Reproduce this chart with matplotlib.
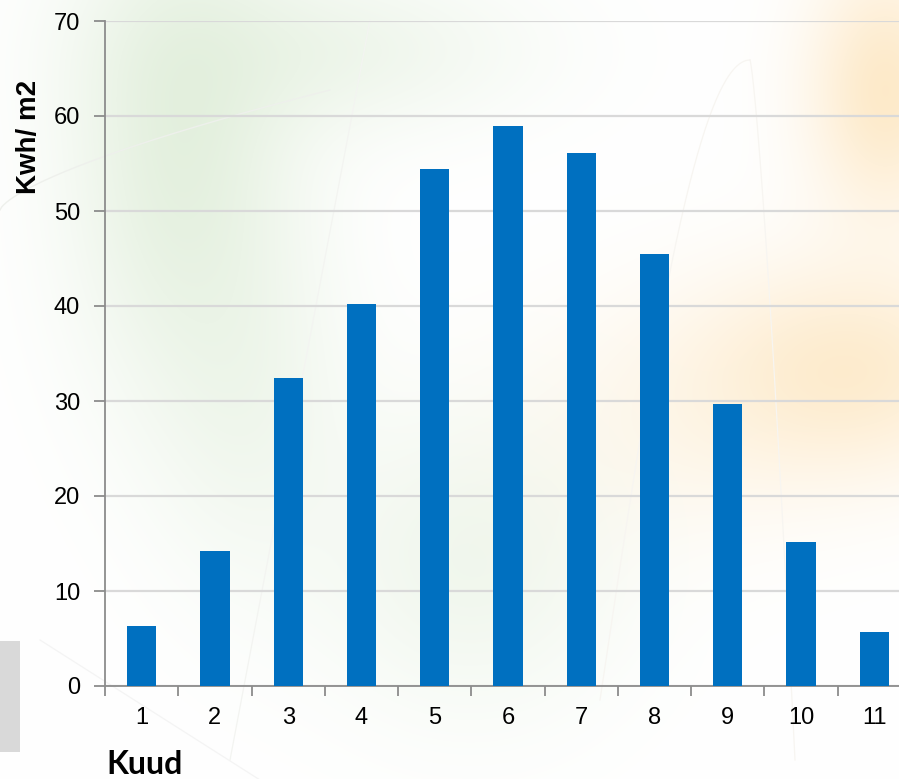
import numpy as np
import matplotlib
matplotlib.use("Agg")
import matplotlib.pyplot as plt
from matplotlib.patches import Rectangle
from matplotlib.ticker import FixedLocator

# Monthly energy per square metre
months = [1, 2, 3, 4, 5, 6, 7, 8, 9, 10, 11]
kwh_per_m2 = [6.3, 14.2, 32.4, 40.2, 54.4, 59.0, 56.1, 45.5, 29.7, 15.2, 5.7]
y_ticks = [0, 10, 20, 30, 40, 50, 60, 70]

W, H = 899, 779
fig = plt.figure(figsize=(W / 100, H / 100), dpi=100)
fig.patch.set_facecolor("white")

# Soft decorative wash behind the chart
bg = fig.add_axes([0, 0, 1, 1], zorder=0)
yy, xx = np.mgrid[0:H, 0:W].astype(float)
img = np.ones((H, W, 3))

def blob(cx, cy, sx, sy, color, strength):
    g = strength * np.exp(-(((xx - cx) / sx) ** 2 + ((yy - cy) / sy) ** 2) / 2)
    col = np.array(color)
    for c in range(3):
        img[..., c] = img[..., c] * (1 - g) + col[c] * g

green = (0.80, 0.89, 0.76)
orange = (0.99, 0.85, 0.62)
blob(180, 150, 80, 170, green, 0.50)
blob(330, 50, 140, 60, green, 0.30)
blob(470, 560, 110, 110, green, 0.28)
blob(250, 400, 70, 130, green, 0.22)
blob(885, 90, 55, 90, orange, 0.55)
blob(850, 370, 110, 75, orange, 0.48)
blob(680, 420, 120, 90, orange, 0.15)
bg.imshow(np.clip(img, 0, 1), extent=[0, W, H, 0], aspect="auto")
# faint line work
t = np.linspace(0, 1, 200)
bg.plot(0 + 330 * t, 200 - 120 * t ** 0.7 + 10, color="#eef0ec", lw=1.0)
bg.plot(230 + 140 * t, 760 - 740 * t, color="#f3f4f1", lw=0.9)
bg.plot(600 + 150 * t, 700 - 640 * np.sin(np.pi * t / 2), color="#f7f5f1", lw=0.9)
bg.plot(750 + 45 * t, 60 + 700 * t ** 1.3, color="#f7f5f1", lw=0.9)
bg.plot(40 + 220 * t, 640 + 140 * t, color="#f4f4f4", lw=0.9)
bg.add_patch(Rectangle((0, 641), 20, 111, facecolor="#d9d9d9", edgecolor="none"))
bg.set_xlim(0, W)
bg.set_ylim(H, 0)
bg.axis("off")

# Main chart
ax = fig.add_axes([105 / W, 93 / H, 806 / W, 665 / H], zorder=1)
ax.patch.set_alpha(0)
ax.bar(months, kwh_per_m2, width=0.4, color="#0070C0", zorder=3)

ax.set_xlim(0.5, 11.5)
ax.set_ylim(0, 70)
ax.set_yticks(y_ticks)
ax.yaxis.grid(True, color="#d9d9d9", linewidth=1.6, zorder=0)
ax.set_axisbelow(True)

ax.set_xticks(months)
ax.set_xticklabels([str(m) for m in months])
ax.xaxis.set_minor_locator(FixedLocator(np.arange(0.5, 12, 1.0)))
ax.tick_params(axis="x", which="major", length=0, pad=15, labelsize=17)
ax.tick_params(axis="x", which="minor", length=7, width=1.3, color="#8c8c8c")
ax.tick_params(axis="y", length=8, width=1.3, color="#8c8c8c", pad=10, labelsize=17)
for lbl in ax.get_xticklabels() + ax.get_yticklabels():
    lbl.set_fontfamily("Liberation Sans")

for side in ("top", "right"):
    ax.spines[side].set_visible(False)
for side in ("left", "bottom"):
    ax.spines[side].set_color("#8c8c8c")
    ax.spines[side].set_linewidth(1.3)

fig.text(29 / W, 1 - 137 / H, "Kwh/ m2", rotation=90, ha="center", va="center",
         fontsize=20, fontweight="bold", family="Liberation Sans")
fig.text(145 / W, 1 - 765 / H, "Kuud", ha="center", va="center",
         fontsize=23, fontweight="bold", family="Lato")

fig.savefig("out.png", dpi=100)
